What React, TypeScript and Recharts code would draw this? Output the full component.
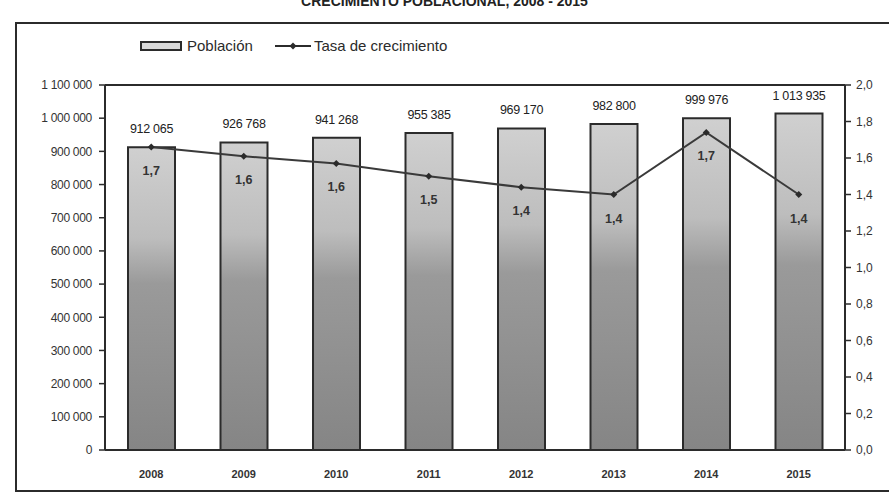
import {
  Bar,
  ComposedChart,
  LabelList,
  Line,
  ReferenceLine,
  XAxis,
  YAxis,
} from "recharts";

const years = ["2008", "2009", "2010", "2011", "2012", "2013", "2014", "2015"];
const poblacion = [912065, 926768, 941268, 955385, 969170, 982800, 999976, 1013935];
const tasa = [1.66, 1.61, 1.57, 1.5, 1.44, 1.4, 1.74, 1.4];

const leftTicks = [0, 100000, 200000, 300000, 400000, 500000, 600000, 700000, 800000, 900000, 1000000, 1100000];
const rightTicks = [0, 0.2, 0.4, 0.6, 0.8, 1.0, 1.2, 1.4, 1.6, 1.8, 2.0];

const data = years.map((year, i) => ({
  year,
  poblacion: poblacion[i],
  tasa: tasa[i],
}));

const font = "'Liberation Sans', Arial, sans-serif";
const ink = "#2b2b2b";

const fmtSpace = (v: number) => v.toLocaleString("en-US").replace(/,/g, " ");
const fmtComma = (v: number) => v.toFixed(1).replace(".", ",");

function Diamond({ cx, cy }: { cx?: number; cy?: number }) {
  if (cx == null || cy == null) return null;
  return <path d={`M${cx} ${cy - 3.5}L${cx + 3.5} ${cy}L${cx} ${cy + 3.5}L${cx - 3.5} ${cy}Z`} fill={ink} />;
}

// population value above each bar, kept on one line
function BarValue(props: any) {
  const { x, y, width, value } = props;
  return (
    <text
      x={x + width / 2}
      y={y - 14}
      textAnchor="middle"
      style={{ fontFamily: font, fontSize: 12.5, fill: "#222", letterSpacing: -0.3 }}
    >
      {fmtSpace(value)}
    </text>
  );
}

// growth rate under each point of the line
function RateValue(props: any) {
  const { x, y, value } = props;
  return (
    <text
      x={x}
      y={y + 28}
      textAnchor="middle"
      style={{ fontFamily: font, fontSize: 12.5, fontWeight: 700, fill: "#333" }}
    >
      {fmtComma(value)}
    </text>
  );
}

function ChartLegend() {
  return (
    <div
      style={{
        position: "absolute",
        left: 140,
        top: 37,
        display: "flex",
        alignItems: "center",
        fontFamily: font,
        fontSize: 15,
        color: ink,
        pointerEvents: "none",
      }}
    >
      <span
        style={{
          display: "inline-block",
          width: 38,
          height: 6,
          border: `2px solid ${ink}`,
          background: "#d9d9d9",
          marginRight: 5,
        }}
      />
      <span style={{ marginRight: 22 }}>Población</span>
      <svg width={36} height={10} style={{ marginRight: 3 }}>
        <line x1={0} y1={5} x2={36} y2={5} stroke={ink} strokeWidth={2} />
        <path d="M18 1.5L21.5 5L18 8.5L14.5 5Z" fill={ink} />
      </svg>
      <span>Tasa de crecimiento</span>
    </div>
  );
}

export default function App() {
  return (
    <div
      style={{
        position: "absolute",
        left: 0,
        top: 0,
        width: 889,
        height: 501,
        overflow: "hidden",
        background: "#fff",
      }}
    >
      <div
        style={{
          position: "absolute",
          top: -7,
          width: 889,
          textAlign: "center",
          fontFamily: font,
          fontWeight: 700,
          fontSize: 14,
          color: "#222",
        }}
      >
        CRECIMIENTO POBLACIONAL, 2008 - 2015
      </div>
      <div
        style={{
          position: "absolute",
          left: 15,
          top: 22,
          width: 900,
          height: 466,
          borderLeft: `2px solid ${ink}`,
          borderTop: `2px solid ${ink}`,
          borderBottom: `2px solid ${ink}`,
        }}
      />
      <ChartLegend />
      <ComposedChart
        width={889}
        height={501}
        data={data}
        margin={{ top: 85, right: 0, bottom: 21, left: 0 }}
        barSize={47}
        style={{ position: "absolute", left: 0, top: 0 }}
      >
        <defs>
          <linearGradient id="barFill" x1="0" y1="0" x2="0" y2="1">
            <stop offset="0%" stopColor="#d0d0d0" />
            <stop offset="30%" stopColor="#bdbdbd" />
            <stop offset="45%" stopColor="#9a9a9a" />
            <stop offset="100%" stopColor="#858585" />
          </linearGradient>
        </defs>
        <XAxis
          dataKey="year"
          tickLine={false}
          tickMargin={14}
          axisLine={{ stroke: ink, strokeWidth: 2 }}
          tick={{ fontFamily: font, fontSize: 11, fontWeight: 700, fill: "#333" }}
          height={30}
        />
        <YAxis
          yAxisId="left"
          domain={[0, 1100000]}
          ticks={leftTicks}
          tickFormatter={fmtSpace}
          width={105}
          tickSize={6}
          tickMargin={7}
          interval={0}
          axisLine={{ stroke: ink, strokeWidth: 2 }}
          tickLine={{ stroke: ink, strokeWidth: 1.5 }}
          tick={{ fontFamily: font, fontSize: 12, fill: "#333", letterSpacing: -0.3 }}
        />
        <YAxis
          yAxisId="right"
          orientation="right"
          domain={[0, 2]}
          ticks={rightTicks}
          tickFormatter={fmtComma}
          width={44}
          tickSize={6}
          tickMargin={5}
          interval={0}
          axisLine={{ stroke: ink, strokeWidth: 2 }}
          tickLine={{ stroke: ink, strokeWidth: 1.5 }}
          tick={{ fontFamily: font, fontSize: 12, fill: "#333" }}
        />
        <ReferenceLine yAxisId="left" y={1100000} stroke={ink} strokeWidth={2} />
        <Bar
          yAxisId="left"
          dataKey="poblacion"
          fill="url(#barFill)"
          stroke={ink}
          strokeWidth={2}
          isAnimationActive={false}
        >
          <LabelList dataKey="poblacion" content={BarValue} />
        </Bar>
        <Line
          yAxisId="right"
          dataKey="tasa"
          stroke="#3a3a3a"
          strokeWidth={2}
          dot={<Diamond />}
          activeDot={false}
          isAnimationActive={false}
        >
          <LabelList dataKey="tasa" content={RateValue} />
        </Line>
      </ComposedChart>
    </div>
  );
}
